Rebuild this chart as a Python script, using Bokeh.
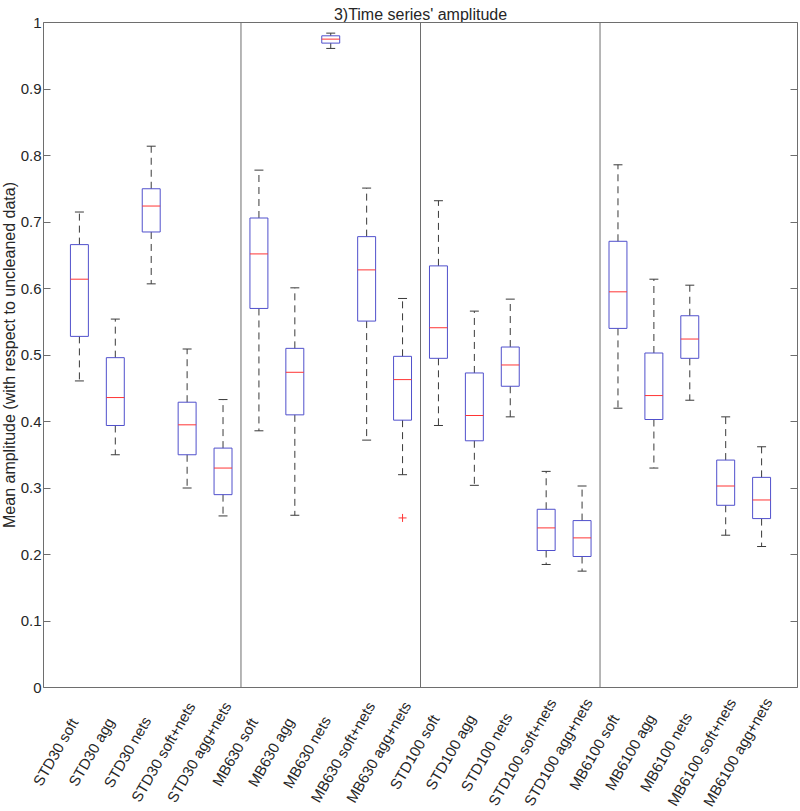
import math
from bokeh.plotting import figure
from bokeh.models import Range1d, FixedTicker, LinearAxis
from bokeh.core.properties import value
from bokeh.embed import file_html
from bokeh.resources import INLINE

labels = ["STD30 soft", "STD30 agg", "STD30 nets", "STD30 soft+nets", "STD30 agg+nets",
          "MB630 soft", "MB630 agg", "MB630 nets", "MB630 soft+nets", "MB630 agg+nets",
          "STD100 soft", "STD100 agg", "STD100 nets", "STD100 soft+nets", "STD100 agg+nets",
          "MB6100 soft", "MB6100 agg", "MB6100 nets", "MB6100 soft+nets", "MB6100 agg+nets"]
upper = [0.715, 0.554, 0.814, 0.509, 0.433, 0.778, 0.601, 0.984, 0.751, 0.585,
         0.732, 0.566, 0.584, 0.325, 0.303, 0.786, 0.614, 0.605, 0.407, 0.362]
q3 = [0.666, 0.496, 0.750, 0.429, 0.360, 0.706, 0.510, 0.980, 0.678, 0.498,
      0.634, 0.473, 0.512, 0.268, 0.251, 0.671, 0.503, 0.559, 0.342, 0.316]
median = [0.614, 0.436, 0.724, 0.395, 0.330, 0.652, 0.474, 0.975, 0.628, 0.463,
          0.541, 0.409, 0.485, 0.240, 0.225, 0.595, 0.439, 0.524, 0.303, 0.282]
q1 = [0.528, 0.394, 0.685, 0.350, 0.290, 0.570, 0.410, 0.969, 0.551, 0.402,
      0.495, 0.371, 0.453, 0.206, 0.197, 0.540, 0.403, 0.495, 0.274, 0.254]
lower = [0.461, 0.350, 0.607, 0.300, 0.258, 0.386, 0.259, 0.961, 0.372, 0.320,
         0.394, 0.304, 0.407, 0.185, 0.175, 0.420, 0.330, 0.432, 0.229, 0.212]
outlier_labels = ["MB630 agg+nets"]
outlier_values = [0.255]
group_size = 5
y_ticks = [0, 0.1, 0.2, 0.3, 0.4, 0.5, 0.6, 0.7, 0.8, 0.9, 1.0]
y_tick_labels = ["0", "0.1", "0.2", "0.3", "0.4", "0.5", "0.6", "0.7", "0.8", "0.9", "1"]
title = "3)Time series' amplitude"
y_label = "Mean amplitude (with respect to uncleaned data)"

FONT = "Liberation Sans"
TXT = "#262626"
AX = "#6e6e6e"
BOX = "#5050cc"
MED = "#ff3535"
WH = "#3a3a3a"

# layout constants (pixels)
W, H = 800, 811
LEFT, RIGHT, TOP = 43, 3, 22      # box-plot area inside the page
FRAME_H = 665                      # height of the 0..1 value range
TITLE_BASE = 8                     # title baseline above the top box line
LAB_GAP = 64.5                     # label centres below the value-0 line
LAB_DX = -24                       # label centre offset from its box

n = len(labels)
xs = list(range(1, n + 1))
pos = {lab: i + 1 for i, lab in enumerate(labels)}
x0, x1 = 0, n + 1
y0, y1 = 0, 1
pxu = (W - LEFT - RIGHT) / (x1 - x0)
pyu = FRAME_H / (y1 - y0)

p = figure(width=W, height=H, output_backend="svg", toolbar_location=None,
           x_range=Range1d(x0 - LEFT / pxu, x1 + RIGHT / pxu),
           y_range=Range1d(y0 - (H - TOP - FRAME_H) / pyu, y1 + TOP / pyu),
           x_axis_type=None, y_axis_type=None, min_border=0)
p.grid.visible = False
p.outline_line_color = None

# y axis (left) with ticks inside
ya = LinearAxis(fixed_location=x0, bounds=(y0, y1), ticker=FixedTicker(ticks=y_ticks))
ya.major_label_overrides = {t: l for t, l in zip(y_ticks, y_tick_labels)}
ya.major_tick_in = 7
ya.major_tick_out = 0
ya.minor_tick_line_color = None
ya.axis_line_color = AX
ya.major_tick_line_color = AX
ya.major_label_text_font = FONT
ya.major_label_text_font_size = "15px"
ya.major_label_text_color = TXT
ya.major_label_standoff = 2
ya.axis_label = y_label
ya.axis_label_text_font = FONT
ya.axis_label_text_font_size = "16px"
ya.axis_label_text_font_style = "normal"
ya.axis_label_text_color = TXT
ya.axis_label_standoff = 0
p.add_layout(ya, "left")

# mirrored ticks on the right
ra = LinearAxis(fixed_location=x1, bounds=(y0, y1), ticker=FixedTicker(ticks=y_ticks))
ra.major_label_overrides = {t: "" for t in y_ticks}
ra.major_tick_in = 7
ra.major_tick_out = 0
ra.minor_tick_line_color = None
ra.axis_line_color = AX
ra.major_tick_line_color = AX
ra.major_label_standoff = 0
p.add_layout(ra, "right")

# bottom and top box lines
for loc, side in ((y0, "below"), (y1, "above")):
    a = LinearAxis(fixed_location=loc, bounds=(x0, x1), ticker=FixedTicker(ticks=[]))
    a.major_tick_line_color = None
    a.minor_tick_line_color = None
    a.axis_line_color = AX
    p.add_layout(a, side)

# group dividers
divs = [g * group_size + 0.5 for g in range(1, n // group_size)]
p.segment(x0=divs, y0=[y0] * len(divs), x1=divs, y1=[y1] * len(divs), line_color=AX, line_width=1)

bw = 0.5
cw = 0.25
# whiskers
p.segment(x0=xs, y0=q3, x1=xs, y1=upper, line_color=WH, line_width=1, line_dash="7 5")
p.segment(x0=xs, y0=q1, x1=xs, y1=lower, line_color=WH, line_width=1, line_dash="7 5")
p.segment(x0=[x - cw / 2 for x in xs], y0=upper, x1=[x + cw / 2 for x in xs], y1=upper,
          line_color=WH, line_width=1)
p.segment(x0=[x - cw / 2 for x in xs], y0=lower, x1=[x + cw / 2 for x in xs], y1=lower,
          line_color=WH, line_width=1)
# boxes
p.quad(left=[x - bw / 2 for x in xs], right=[x + bw / 2 for x in xs], top=q3, bottom=q1,
       fill_color=None, line_color=BOX, line_width=1)
# medians
p.segment(x0=[x - bw / 2 for x in xs], y0=median, x1=[x + bw / 2 for x in xs], y1=median,
          line_color=MED, line_width=1)
# outliers
p.scatter(x=[pos[l] for l in outlier_labels], y=outlier_values, marker="cross", size=8,
          line_color=MED, line_width=1)

# category labels below the boxes
p.text(x=[x + LAB_DX / pxu for x in xs], y=[y0 - LAB_GAP / pyu] * n, text=labels,
       angle=math.radians(60), text_align="center", text_baseline="middle",
       text_font=value(FONT), text_font_size=value("15px"), text_color=TXT)

# title centred over the box plot
p.text(x=[(x0 + x1) / 2], y=[y1 + TITLE_BASE / pyu], text=[title],
       text_align="center", text_baseline="alphabetic",
       text_font=value(FONT), text_font_size=value("16px"), text_color=TXT)

open("out.html", "w").write(file_html(p, INLINE))
